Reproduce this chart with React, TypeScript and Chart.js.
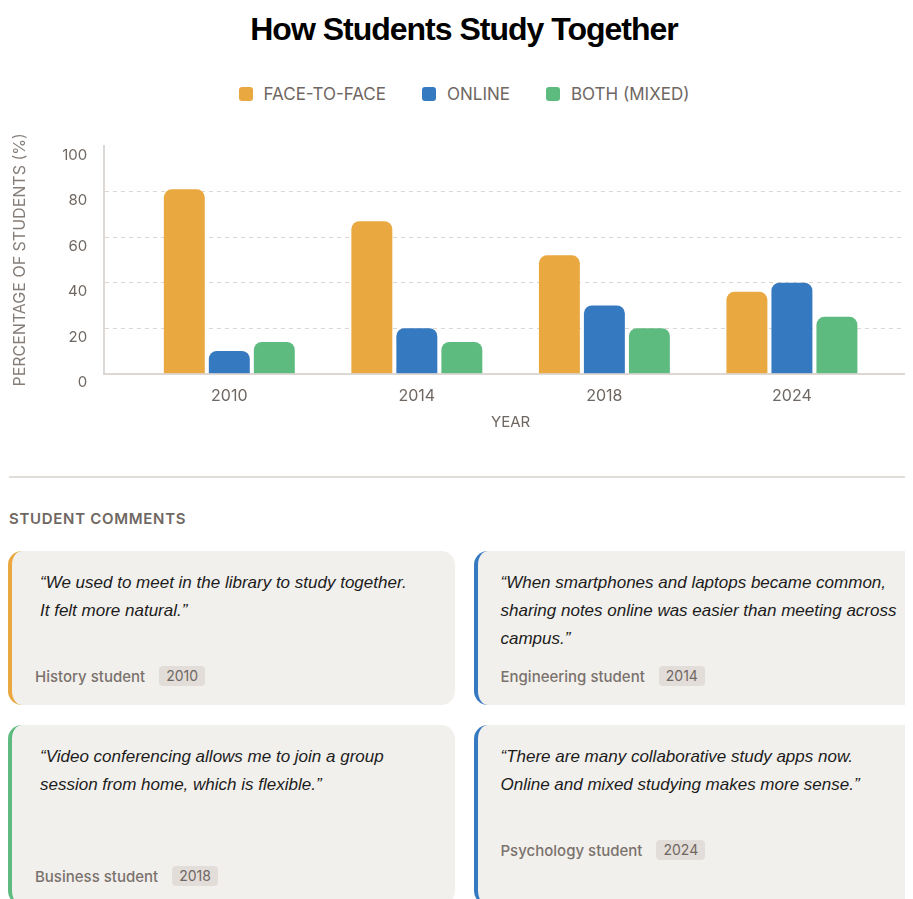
import React, { useEffect, useRef } from "react";
import { Chart, registerables } from "chart.js";

Chart.register(...registerables);

// ---- data ----
const YEARS = ["2010", "2014", "2018", "2024"];
const FACE_TO_FACE = [81, 67, 52, 36];
const ONLINE = [10, 20, 30, 40];
const BOTH_MIXED = [14, 14, 20, 25];
const SERIES_NAMES = ["FACE-TO-FACE", "ONLINE", "BOTH (MIXED)"];
const SERIES_COLORS = ["#E9A840", "#3579C0", "#5EBB80"];
const Y_MIN = 0;
const Y_MAX = 100;
const Y_STEP = 20;

const COMMENT_QUOTES = [
  "\u201CWe used to meet in the library to study together. It felt more natural.\u201D",
  "\u201CWhen smartphones and laptops became common, sharing notes online was easier than meeting across campus.\u201D",
  "\u201CVideo conferencing allows me to join a group session from home, which is flexible.\u201D",
  "\u201CThere are many collaborative study apps now. Online and mixed studying makes more sense.\u201D",
];
const COMMENT_AUTHORS = ["History student", "Engineering student", "Business student", "Psychology student"];
const COMMENT_YEARS = ["2010", "2014", "2018", "2024"];
const COMMENT_SERIES = [0, 1, 2, 1];

const TEXT_GREY = "#6f6762";
const FONT = "Inter, 'Noto Sans', sans-serif";

function BarChart() {
  const ref = useRef<HTMLCanvasElement | null>(null);
  useEffect(() => {
    if (!ref.current) return;
    const seriesValues = [FACE_TO_FACE, ONLINE, BOTH_MIXED];
    const chart = new Chart(ref.current, {
      type: "bar",
      data: {
        datasets: SERIES_NAMES.map((name, i) => ({
          label: name,
          data: seriesValues[i].map((v, j) => ({ x: j, y: v })),
          backgroundColor: SERIES_COLORS[i],
          borderRadius: 8,
          borderSkipped: "start",
          categoryPercentage: 0.72,
          barPercentage: 0.91,
        })),
      },
      options: {
        animation: false,
        responsive: false,
        devicePixelRatio: 1,
        layout: { padding: { top: 13, right: 3, left: 0, bottom: 0 } },
        plugins: {
          legend: { display: false },
          title: { display: false },
          tooltip: { enabled: false },
        },
        scales: {
          x: {
            type: "linear",
            offset: false,
            min: -0.667,
            max: YEARS.length - 1 + 0.667,
            afterBuildTicks: (axis: any) => {
              axis.ticks = YEARS.map((_, i) => ({ value: i }));
            },
            grid: { display: false, drawTicks: false },
            border: { display: true, color: "#ddd8d4", width: 2 },
            ticks: {
              callback: (v: any) => YEARS[Math.round(Number(v))] ?? "",
              color: TEXT_GREY,
              font: { family: FONT, size: 16 },
              padding: 13,
              maxRotation: 0,
              autoSkip: false,
            },
            title: {
              display: true,
              text: "YEAR",
              color: TEXT_GREY,
              font: { family: FONT, size: 15 },
              padding: { top: -6, bottom: 9 },
            },
          },
          y: {
            min: Y_MIN,
            max: Y_MAX,
            ticks: {
              stepSize: Y_STEP,
              color: TEXT_GREY,
              font: { family: FONT, size: 15 },
              padding: 17,
              labelOffset: 9,
            },
            grid: {
              drawTicks: false,
              lineWidth: 1,
              color: (ctx: any) =>
                ctx.tick && (ctx.tick.value === Y_MIN || ctx.tick.value === Y_MAX) ? "rgba(0,0,0,0)" : "#dcd7d3",
            },
            border: { display: true, color: "#ddd8d4", width: 2, dash: [4, 4] },
            title: {
              display: true,
              text: "PERCENTAGE OF STUDENTS (%)",
              color: "#857d78",
              font: { family: FONT, size: 16 },
              padding: { top: 3, bottom: 15 },
            },
          },
        },
      },
    });
    return () => chart.destroy();
  }, []);
  return <canvas ref={ref} width={912} height={320} style={{ display: "block" }} />;
}

function Card({ i }: { i: number }) {
  const color = SERIES_COLORS[COMMENT_SERIES[i]];
  const leftCol = i % 2 === 0;
  return (
    <div
      style={{
        background: "#f2f0ec",
        borderRadius: 14,
        borderLeft: `4px solid ${color}`,
        padding: "18px 0 19px 23px",
        display: "flex",
        flexDirection: "column",
        boxSizing: "border-box",
      }}
    >
      <div
        style={{
          fontFamily: "'Liberation Sans', Arial, sans-serif",
          fontStyle: "italic",
          fontSize: 17,
          lineHeight: "28px",
          color: "#1c1c1c",
          minHeight: i === 2 ? 110 : 84,
          paddingLeft: leftCol ? 5 : 0,
          paddingRight: leftCol ? 40 : 20,
        }}
      >
        {COMMENT_QUOTES[i]}
      </div>
      <div style={{ marginTop: 13, display: "flex", alignItems: "center", height: 20 }}>
        <span style={{ fontFamily: FONT, fontSize: 15, fontWeight: 500, color: "#7a726d" }}>{COMMENT_AUTHORS[i]}</span>
        <span
          style={{
            marginLeft: 14,
            background: "#e3ddd9",
            borderRadius: 4,
            padding: "0 7px",
            height: 20,
            lineHeight: "20px",
            fontFamily: FONT,
            fontSize: 14,
            color: TEXT_GREY,
          }}
        >
          {COMMENT_YEARS[i]}
        </span>
      </div>
    </div>
  );
}

export default function App() {
  return (
    <div style={{ width: 905, height: 891, overflow: "hidden", position: "relative" }}>
      <div style={{ width: 912, height: 940, position: "relative" }}>
        <div
          style={{
            position: "absolute",
            top: 5,
            left: 0,
            width: 912,
            textAlign: "center",
            fontFamily: "'Liberation Sans', Arial, sans-serif",
            fontWeight: 700,
            fontSize: 32,
            lineHeight: "32px",
            letterSpacing: -1,
            color: "#000",
          }}
        >
          How Students Study Together
        </div>
        <div
          style={{
            position: "absolute",
            top: 76,
            left: 0,
            width: 912,
            height: 20,
            display: "flex",
            justifyContent: "center",
            alignItems: "center",
            gap: 36,
          }}
        >
          {SERIES_NAMES.map((name, i) => (
            <div key={name} style={{ display: "flex", alignItems: "center" }}>
              <span
                style={{
                  width: 14,
                  height: 14,
                  borderRadius: 3,
                  background: SERIES_COLORS[i],
                  display: "inline-block",
                  marginRight: 11,
                }}
              />
              <span style={{ fontFamily: FONT, fontSize: 17, color: TEXT_GREY, lineHeight: "20px" }}>{name}</span>
            </div>
          ))}
        </div>
        <div style={{ position: "absolute", top: 112, left: 0 }}>
          <BarChart />
        </div>
        <div style={{ position: "absolute", top: 468, left: 1, width: 911, height: 2, background: "#e0dcd8" }} />
        <div
          style={{
            position: "absolute",
            top: 502,
            left: 1,
            fontFamily: FONT,
            fontSize: 15,
            fontWeight: 600,
            letterSpacing: 0.7,
            color: TEXT_GREY,
            lineHeight: "18px",
          }}
        >
          STUDENT COMMENTS
        </div>
        <div
          style={{
            position: "absolute",
            top: 543,
            left: 0,
            width: 912,
            display: "grid",
            gridTemplateColumns: "1fr 1fr",
            columnGap: 19,
            rowGap: 20,
          }}
        >
          {COMMENT_QUOTES.map((_, i) => (
            <Card key={i} i={i} />
          ))}
        </div>
      </div>
    </div>
  );
}
